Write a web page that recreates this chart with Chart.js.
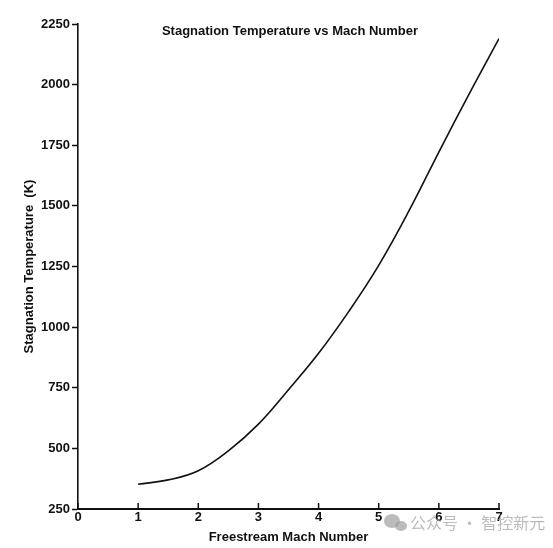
<!DOCTYPE html>
<html>
<head>
<meta charset="utf-8">
<script src="https://cdn.jsdelivr.net/npm/chart.js@4.4.0/dist/chart.umd.min.js"></script>
<style>
    html, body { margin: 0; padding: 0; background: #ffffff; }
    #wrap { width: 553px; height: 548px; }
</style>
</head>
<body>
<div id="wrap"><canvas id="chart-temp" width="553" height="548"></canvas></div>
<script>
// Stagnation temperature vs Mach number

const machNumbers = [1, 1.5, 2, 2.5, 3, 3.5, 4, 4.5, 5, 5.5, 6, 6.5, 7];
const stagTemps = [352, 370, 408, 490, 600, 742, 892, 1064, 1255, 1478, 1722, 1960, 2190];
const xTicks = [0, 1, 2, 3, 4, 5, 6, 7];
const yTicks = [250, 500, 750, 1000, 1250, 1500, 1750, 2000, 2250];

const chartTitle = 'Stagnation Temperature vs Mach Number';
const xTitle = 'Freestream Mach Number';
const yTitle = 'Stagnation Temperature  (K)';
const watermark = '公众号 · 智控新元';

const ink = '#111111';
const fontFamily = '"Liberation Sans", Arial, Helvetica, sans-serif';

// title inside plot area, inward x ticks, watermark
const extrasPlugin = {
    id: 'extras',
    afterDraw(chart) {
        const ctx = chart.ctx;
        const area = chart.chartArea;
        const xs = chart.scales.x;
        ctx.save();
        ctx.fillStyle = ink;
        ctx.font = 'bold 13px ' + fontFamily;
        ctx.textAlign = 'center';
        ctx.textBaseline = 'middle';
        ctx.fillText(chartTitle, 290, 31);

        ctx.strokeStyle = ink;
        ctx.lineWidth = 1.5;
        xTicks.forEach(v => {
            const px = xs.getPixelForValue(v);
            ctx.beginPath();
            ctx.moveTo(px, area.bottom);
            ctx.lineTo(px, area.bottom - 6);
            ctx.stroke();
        });

        // watermark icon + text
        ctx.fillStyle = 'rgba(160,160,160,0.7)';
        ctx.beginPath();
        ctx.ellipse(392, 521, 8, 7, 0, 0, Math.PI * 2);
        ctx.fill();
        ctx.beginPath();
        ctx.ellipse(401, 526, 6, 5, 0, 0, Math.PI * 2);
        ctx.fill();
        ctx.font = '16px "Noto Sans CJK SC", sans-serif';
        ctx.textAlign = 'left';
        ctx.fillText(watermark, 410, 523);
        ctx.restore();
    }
};

function renderChart() {
    const ctx = document.getElementById('chart-temp');
    new Chart(ctx, {
        type: 'line',
        data: {
            datasets: [{
                data: machNumbers.map((m, i) => ({ x: m, y: stagTemps[i] })),
                borderColor: ink,
                borderWidth: 1.6,
                pointRadius: 0,
                fill: false,
                tension: 0.4
            }]
        },
        options: {
            responsive: false,
            animation: false,
            layout: {
                padding: { left: 18, right: 54, top: 24, bottom: 0 }
            },
            plugins: {
                legend: { display: false },
                tooltip: { enabled: false }
            },
            scales: {
                x: {
                    type: 'linear',
                    min: 0,
                    max: 7,
                    afterBuildTicks: scale => {
                        scale.ticks = xTicks.map(v => ({ value: v }));
                    },
                    afterFit: scale => { scale.height = 39; },
                    grid: { display: false, drawTicks: false },
                    border: { display: true, color: ink, width: 2 },
                    ticks: {
                        color: ink,
                        padding: 1,
                        callback: v => String(v),
                        font: { family: fontFamily, size: 13, weight: 'bold' }
                    },
                    title: {
                        display: true,
                        text: xTitle,
                        color: ink,
                        padding: { top: 2, bottom: 3 },
                        font: { family: fontFamily, size: 13, weight: 'bold' }
                    }
                },
                y: {
                    type: 'linear',
                    min: 250,
                    max: 2250,
                    afterBuildTicks: scale => {
                        scale.ticks = yTicks.map(v => ({ value: v }));
                    },
                    afterFit: scale => { scale.width = 60; },
                    grid: {
                        drawOnChartArea: false,
                        drawTicks: true,
                        tickLength: 6,
                        tickWidth: 1.5,
                        tickColor: ink
                    },
                    border: { display: true, color: ink, width: 1.6 },
                    ticks: {
                        color: ink,
                        padding: 2,
                        callback: v => String(v),
                        font: { family: fontFamily, size: 13, weight: 'bold' }
                    },
                    title: {
                        display: true,
                        text: yTitle,
                        color: ink,
                        padding: { top: 4, bottom: 2 },
                        font: { family: fontFamily, size: 13, weight: 'bold' }
                    }
                }
            }
        },
        plugins: [extrasPlugin]
    });
}

renderChart();
</script>
</body>
</html>
